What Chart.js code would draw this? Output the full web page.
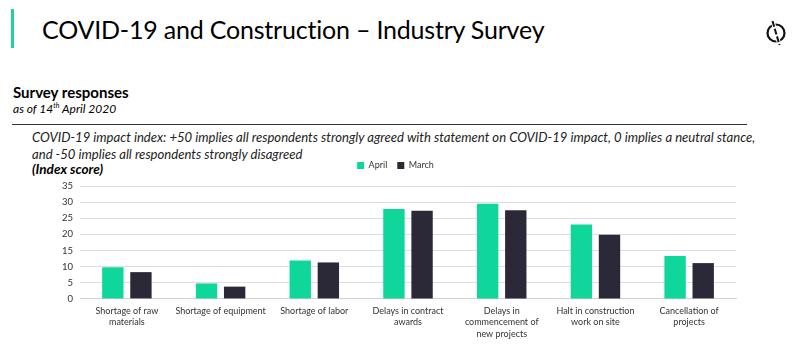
<!DOCTYPE html>
<html lang="en">
<head>
    <meta charset="UTF-8">
    <title>COVID-19 and Construction – Industry Survey</title>
    <script src="https://cdn.jsdelivr.net/npm/chart.js@4.4.0/dist/chart.umd.min.js"></script>
    <style>
        body {
            margin: 0;
            width: 800px;
            height: 353px;
            background: #ffffff;
            font-family: Lato, "Open Sans", sans-serif;
            color: #000;
            position: relative;
            overflow: hidden;
        }

        .accent {
            position: absolute;
            left: 11px;
            top: 9px;
            width: 3px;
            height: 39px;
            background: #1fd19b;
        }

        .title {
            position: absolute;
            left: 42px;
            top: 14px;
            font-size: 25px;
            margin: 0;
            font-weight: normal;
            letter-spacing: -0.2px;
        }

        .logo {
            position: absolute;
            left: 764px;
            top: 19px;
        }

        .subtitle {
            position: absolute;
            left: 13px;
            top: 83px;
            font-size: 15px;
            font-weight: bold;
        }

        .asof {
            position: absolute;
            left: 13px;
            top: 101px;
            font-size: 12px;
            font-style: italic;
        }

        .rule {
            position: absolute;
            left: 12px;
            top: 124px;
            width: 735px;
            height: 1px;
            background: #333;
        }

        .note {
            position: absolute;
            left: 32px;
            top: 129px;
            font-size: 13.1px;
            font-style: italic;
            line-height: 17px;
            color: #222;
        }

        .unit {
            position: absolute;
            left: 32px;
            top: 161px;
            font-size: 13.5px;
            font-weight: bold;
            font-style: italic;
        }

        .chart-box {
            position: absolute;
            left: 55px;
            top: 151px;
            width: 685px;
            height: 195px;
        }
    </style>
</head>
<body>
    <div class="accent"></div>
    <h1 class="title">COVID-19 and Construction – Industry Survey</h1>
    <svg class="logo" width="24" height="28" viewBox="0 0 24 28">
        <circle cx="12" cy="14" r="8.5" fill="none" stroke="#111" stroke-width="2.2"></circle>
        <line x1="8.5" y1="2" x2="15.5" y2="26" stroke="#fff" stroke-width="4"></line>
        <line x1="8.5" y1="2" x2="15.5" y2="26" stroke="#111" stroke-width="2" stroke-dasharray="6 2"></line>
    </svg>

    <div class="subtitle">Survey responses</div>
    <div class="asof">as of 14<sup style="font-size:7px">th</sup> April 2020</div>
    <div class="rule"></div>
    <div class="note">COVID-19 impact index: +50 implies all respondents strongly agreed with statement on COVID-19 impact, 0 implies a neutral stance,<br>and -50 implies all respondents strongly disagreed</div>
    <div class="unit">(Index score)</div>

    <div class="chart-box">
        <canvas id="survey-chart"></canvas>
    </div>

    <script>
        // survey data
        const categories = [
            ['Shortage of raw', 'materials'],
            'Shortage of equipment',
            'Shortage of labor',
            ['Delays in contract', 'awards'],
            ['Delays in', 'commencement of', 'new projects'],
            ['Halt in construction', 'work on site'],
            ['Cancellation of', 'projects']
        ];
        const aprilScores = [9.8, 4.8, 11.9, 27.9, 29.5, 23.1, 13.3];
        const marchScores = [8.3, 3.8, 11.3, 27.3, 27.5, 19.9, 11.1];

        // a bit more room between legend and plot
        const legendGap = {
            id: 'legendGap',
            beforeInit(chart) {
                const fit = chart.legend.fit;
                chart.legend.fit = function () {
                    fit.bind(chart.legend)();
                    this.height += 6;
                };
            }
        };

        const ctx = document.getElementById('survey-chart').getContext('2d');
        new Chart(ctx, {
            type: 'bar',
            data: {
                labels: categories,
                datasets: [{
                    label: 'April',
                    data: aprilScores,
                    backgroundColor: '#0fd69b',
                    categoryPercentage: 0.6,
                    barPercentage: 0.76
                }, {
                    label: 'March',
                    data: marchScores,
                    backgroundColor: '#2b2938',
                    categoryPercentage: 0.6,
                    barPercentage: 0.76
                }]
            },
            plugins: [legendGap],
            options: {
                responsive: true,
                maintainAspectRatio: false,
                animation: false,
                layout: {
                    padding: { left: 0, right: 4, top: 0, bottom: 0 }
                },
                plugins: {
                    legend: {
                        position: 'top',
                        labels: {
                            boxWidth: 7,
                            boxHeight: 7,
                            padding: 10,
                            color: '#333',
                            font: { family: 'Lato', size: 9 }
                        }
                    },
                    tooltip: { enabled: false }
                },
                scales: {
                    x: {
                        grid: { display: false, drawTicks: false },
                        border: { color: '#d0d0d0' },
                        ticks: {
                            color: '#333',
                            padding: 6,
                            maxRotation: 0,
                            autoSkip: false,
                            font: { family: 'Lato', size: 9, lineHeight: 1.3 }
                        }
                    },
                    y: {
                        min: 0,
                        max: 35,
                        grid: { color: '#dedede', drawTicks: false },
                        border: { display: false },
                        ticks: {
                            stepSize: 5,
                            padding: 7,
                            color: '#333',
                            font: { family: 'Lato', size: 9.5 }
                        }
                    }
                }
            }
        });
    </script>
</body>
</html>
